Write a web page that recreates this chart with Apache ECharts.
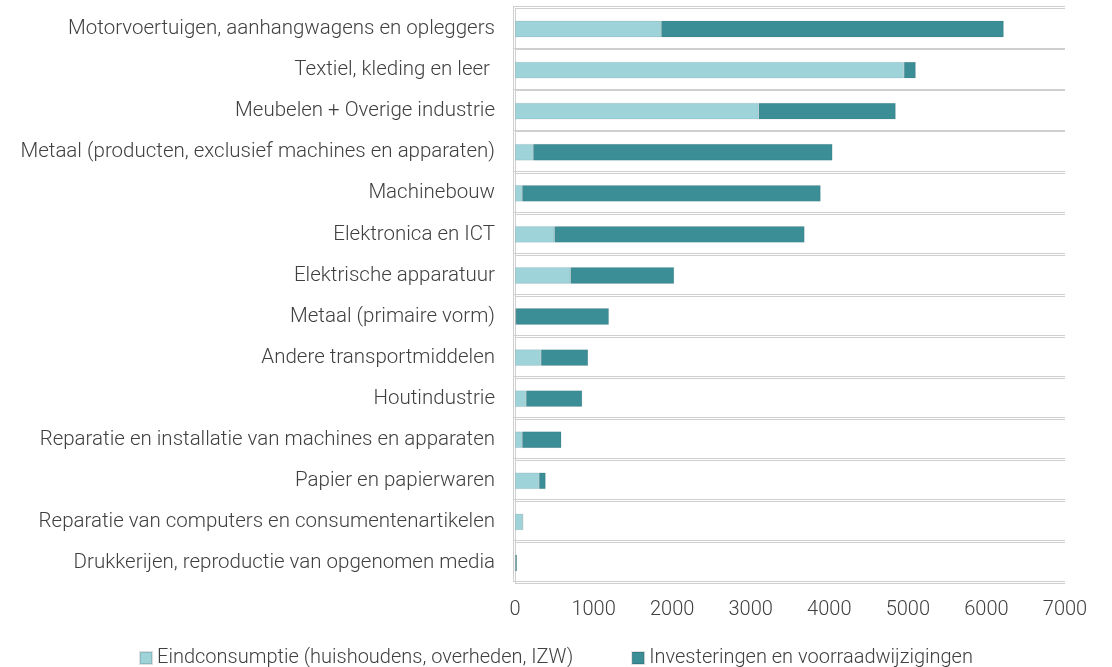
<!DOCTYPE html>
<html>
<head>
    <meta charset="UTF-8">
    <title>Eindconsumptie en investeringen per bedrijfstak</title>
    <script src="https://cdn.jsdelivr.net/npm/echarts@6/dist/echarts.min.js"></script>
    <style>
        html, body { margin: 0; padding: 0; background: #fff; }
    </style>
</head>
<body>
    <div id="chart" style="width: 1112px; height: 667px;"></div>

    <script type="text/javascript">
        // categorieen, van boven naar beneden
        var categories = [
            'Motorvoertuigen, aanhangwagens en opleggers',
            'Textiel, kleding en leer ',
            'Meubelen + Overige industrie',
            'Metaal (producten, exclusief machines en apparaten)',
            'Machinebouw',
            'Elektronica en ICT',
            'Elektrische apparatuur',
            'Metaal (primaire vorm)',
            'Andere transportmiddelen',
            'Houtindustrie',
            'Reparatie en installatie van machines en apparaten',
            'Papier en papierwaren',
            'Reparatie van computers en consumentenartikelen',
            'Drukkerijen, reproductie van opgenomen media'
        ];

        var seriesNames = [
            'Eindconsumptie (huishoudens, overheden, IZW)',
            'Investeringen en voorraadwijzigingen'
        ];

        // waarden
        var eindconsumptie = [1860, 4950, 3100, 230, 90, 500, 705, 10, 330, 140, 90, 305, 100, 5];
        var investeringen  = [4360, 150, 1745, 3810, 3800, 3185, 1320, 1185, 600, 715, 500, 85, 0, 20];

        var xTicks = { min: 0, max: 7000, interval: 1000 };

        var textColor = '#404040';
        var lineColor = '#cfcfcf';
        var fontFamily = 'Roboto, "Noto Sans", sans-serif';

        var myChart = echarts.init(document.getElementById('chart'));

        var option = {
            animation: false,
            textStyle: { fontFamily: fontFamily },
            legend: {
                top: 643,
                left: 'center',
                itemWidth: 12,
                itemHeight: 12,
                itemGap: 58,
                icon: 'rect',
                textStyle: { color: textColor, fontSize: 20, fontWeight: 300, fontFamily: fontFamily },
                data: seriesNames
            },
            grid: [
                // hoofdgrid met de staven
                { left: 515, right: 47, top: 8.5, height: 575, containLabel: false },
                // tweede grid voor de dubbele scheidingslijnen
                { left: 513, right: 47, top: 6.7, height: 575, containLabel: false }
            ],
            xAxis: [
                {
                    gridIndex: 0,
                    type: 'value',
                    min: xTicks.min,
                    max: xTicks.max,
                    interval: xTicks.interval,
                    axisLine: { show: false },
                    axisTick: { show: false },
                    splitLine: { show: false },
                    axisLabel: {
                        color: textColor, fontSize: 20, fontWeight: 300, margin: 16,
                        formatter: function (v) { return String(v); }
                    }
                },
                {
                    gridIndex: 1,
                    type: 'value',
                    min: xTicks.min,
                    max: xTicks.max,
                    show: false
                }
            ],
            yAxis: [
                {
                    gridIndex: 0,
                    type: 'category',
                    inverse: true,
                    data: categories,
                    axisLine: { show: true, lineStyle: { color: lineColor, width: 1 } },
                    axisTick: { show: false },
                    splitLine: { show: true, lineStyle: { color: lineColor, width: 1 } },
                    axisLabel: { color: textColor, fontSize: 20.5, fontWeight: 300, margin: 20 }
                },
                {
                    gridIndex: 1,
                    type: 'category',
                    inverse: true,
                    data: categories,
                    axisLine: { show: true, lineStyle: { color: lineColor, width: 1 } },
                    axisTick: { show: false },
                    axisLabel: { show: false },
                    splitLine: { show: true, lineStyle: { color: lineColor, width: 1 } }
                }
            ],
            series: [
                {
                    name: seriesNames[0],
                    type: 'bar',
                    stack: 'totaal',
                    xAxisIndex: 0,
                    yAxisIndex: 0,
                    barWidth: '40%',
                    itemStyle: { color: '#9DD3D9', borderColor: 'rgba(0,0,0,0.12)', borderWidth: 0.6 },
                    data: eindconsumptie
                },
                {
                    name: seriesNames[1],
                    type: 'bar',
                    stack: 'totaal',
                    xAxisIndex: 0,
                    yAxisIndex: 0,
                    barWidth: '40%',
                    itemStyle: { color: '#3B8E96', borderColor: 'rgba(0,0,0,0.12)', borderWidth: 0.6 },
                    data: investeringen
                }
            ]
        };

        myChart.setOption(option);
    </script>
</body>
</html>
